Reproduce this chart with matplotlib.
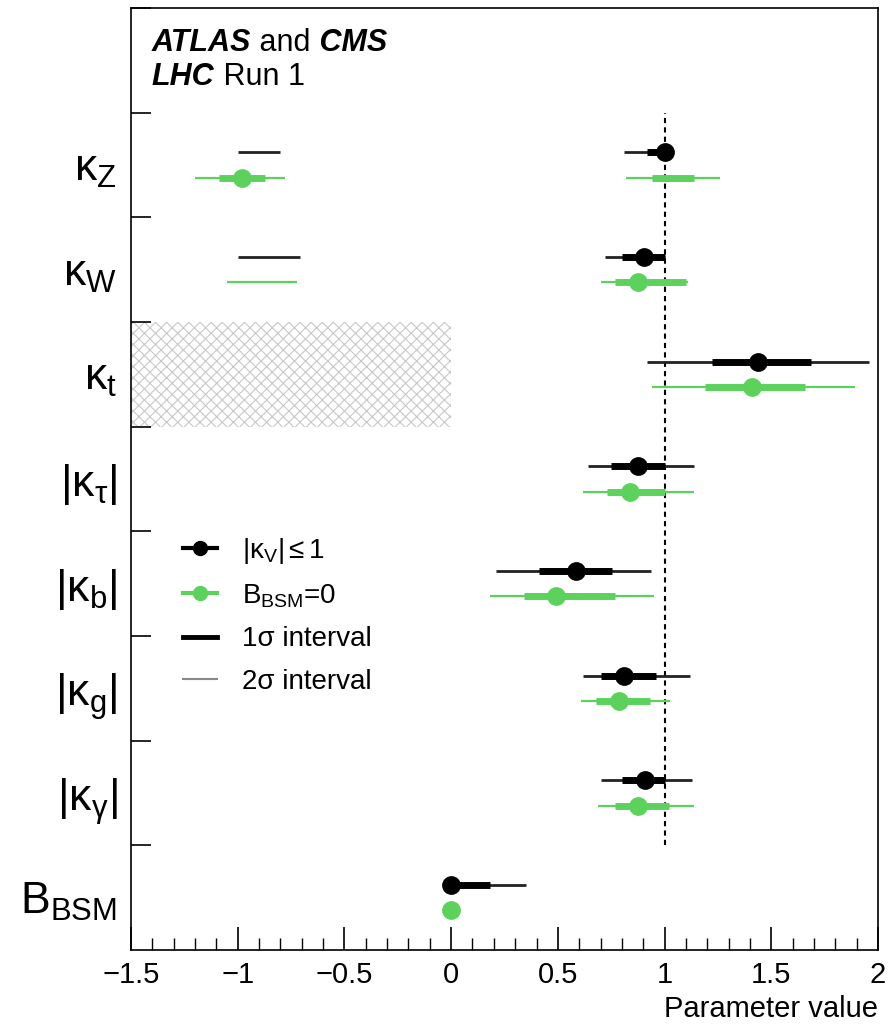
import numpy as np
import matplotlib
matplotlib.use('Agg')
import matplotlib.pyplot as plt
from matplotlib.lines import Line2D

plt.rcParams['font.family'] = ['Liberation Sans', 'DejaVu Sans']
plt.rcParams['mathtext.fontset'] = 'custom'
plt.rcParams['mathtext.rm'] = 'Liberation Sans'
plt.rcParams['mathtext.it'] = 'Liberation Sans'
plt.rcParams['mathtext.default'] = 'regular'
plt.rcParams['hatch.linewidth'] = 0.8

# parameters, top to bottom
params = [r'$\kappa_Z$', r'$\kappa_W$', r'$\kappa_t$', r'$|\kappa_\tau|$',
          r'$|\kappa_b|$', r'$|\kappa_g|$', r'$|\kappa_\gamma|$', r'$B_{BSM}$']

# fit with |kappa_V| <= 1 (black)
kv_best = [1.00, 0.905, 1.44, 0.875, 0.585, 0.81, 0.91, 0.0]
kv_1sig = [[(0.92, 1.00)], [(0.80, 1.00)], [(1.22, 1.685)], [(0.75, 1.00)],
           [(0.41, 0.755)], [(0.70, 0.96)], [(0.80, 1.00)], [(0.0, 0.18)]]
kv_2sig = [[(-1.00, -0.80), (0.81, 1.00)], [(-1.00, -0.71), (0.72, 1.00)],
           [(0.92, 1.96)], [(0.64, 1.14)], [(0.21, 0.935)], [(0.62, 1.12)],
           [(0.70, 1.13)], [(0.0, 0.35)]]

# fit with B_BSM = 0 (green)
bb_best = [-0.98, 0.875, 1.41, 0.84, 0.49, 0.785, 0.875, 0.0]
bb_1sig = [[(-1.09, -0.87), (0.94, 1.14)], [(0.77, 1.10)], [(1.19, 1.66)],
           [(0.73, 1.00)], [(0.34, 0.77)], [(0.68, 0.93)], [(0.77, 1.02)], []]
bb_2sig = [[(-1.20, -0.78), (0.82, 1.26)], [(-1.05, -0.72), (0.70, 1.11)],
           [(0.94, 1.89)], [(0.62, 1.14)], [(0.18, 0.95)], [(0.61, 1.025)],
           [(0.69, 1.14)], []]

green = '#5cd25c'
n = len(params)
centers = np.arange(n)[::-1] + 0.5
off = 0.12

fig = plt.figure(figsize=(8.89, 10.27), dpi=100)
ax = fig.add_axes([0.1474, 0.075, 0.8402, 0.9172])

# hatched region for kappa_t < 0
ax.fill_between([-1.5, 0], 5, 6, facecolor='none', edgecolor='#c8c8c8',
                hatch='xxx', linewidth=0)

# SM reference line
ax.plot([1, 1], [1, 8], color='black', lw=1.5, ls=(0, (2.5, 2)), zorder=2)

def draw(best, s1, s2, y, col, c2, lw2):
    for lo, hi in s2:
        ax.plot([lo, hi], [y, y], color=c2, lw=lw2, solid_capstyle='butt', zorder=3)
    for lo, hi in s1:
        ax.plot([lo, hi], [y, y], color=col, lw=5, solid_capstyle='butt', zorder=4)
    ax.plot(best, y, 'o', color=col, ms=12.5, zorder=5)

for i in range(n):
    draw(kv_best[i], kv_1sig[i], kv_2sig[i], centers[i] + off, 'black', '#222222', 2)
    draw(bb_best[i], bb_1sig[i], bb_2sig[i], centers[i] - off, green, green, 1.6)

ax.set_xlim(-1.5, 2)
ax.set_ylim(0, 9)

ax.set_yticks(centers)
ax.set_yticklabels(params, fontsize=32)
ax.set_yticks(np.arange(1, 10), minor=True)
ax.tick_params(axis='y', which='major', length=0, pad=10)
ax.tick_params(axis='y', which='minor', direction='in', length=14.5, width=1.2)

ax.set_xticks(np.arange(-1.5, 2.01, 0.5))
ax.set_xticklabels(['\u22121.5', '\u22121', '\u22120.5', '0', '0.5', '1', '1.5', '2'])
ax.set_xticks(np.arange(-1.5, 2.01, 0.1), minor=True)
ax.tick_params(axis='x', which='major', direction='in', length=16.5, width=1.2,
               labelsize=21, pad=8)
ax.tick_params(axis='x', which='minor', direction='in', length=8.5, width=1.0)
for s in ax.spines.values():
    s.set_linewidth(1.2)

ax.set_xlabel('Parameter value', fontsize=21, loc='right', labelpad=4)

# experiment label
t1 = ax.text(0.028, 0.979, 'ATLAS', transform=ax.transAxes, fontsize=22,
             fontweight='bold', fontstyle='italic', va='top')
t2 = ax.annotate(' and', xy=(1, 1), xycoords=t1, fontsize=22, va='top')
t3 = ax.annotate(' CMS', xy=(1, 1), xycoords=t2, fontsize=22, va='top',
                 fontweight='bold', fontstyle='italic')
t4 = ax.text(0.028, 0.943, 'LHC', transform=ax.transAxes, fontsize=22,
             fontweight='bold', fontstyle='italic', va='top')
ax.annotate(' Run 1', xy=(1, 1), xycoords=t4, fontsize=22, va='top')

handles = [
    Line2D([], [], color='black', lw=3, marker='o', ms=10),
    Line2D([], [], color=green, lw=3, marker='o', ms=10),
    Line2D([], [], color='black', lw=3.5),
    Line2D([], [], color='#888888', lw=1.5),
]
labels = [r'$|\kappa_V| \leq 1$', r'$B_{BSM}$=0', '1\u03c3 interval', '2\u03c3 interval']
ax.legend(handles, labels, loc='upper left', bbox_to_anchor=(0.07, 0.44),
          frameon=False, fontsize=20, handlelength=1.2, handletextpad=0.9,
          labelspacing=0.6, borderpad=0, borderaxespad=0)

fig.savefig('out.png', dpi=100)
